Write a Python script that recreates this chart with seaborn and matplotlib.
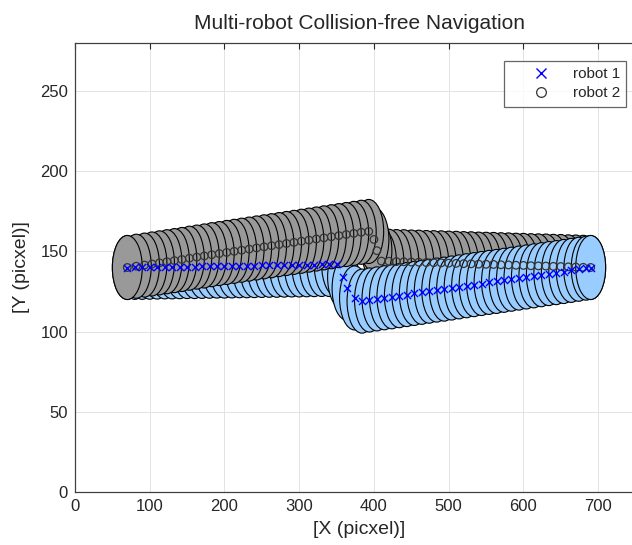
import numpy as np
import pandas as pd
import seaborn as sns
import matplotlib.pyplot as plt
from matplotlib.patches import Circle
from matplotlib.lines import Line2D

# robot 1 (blue) drives left -> right, dips under robot 2 in the middle
robot1_x = [70, 80, 90, 100, 110, 120, 130, 140, 150, 160, 170, 180, 190, 200, 210,
            220, 230, 240, 250, 260, 270, 280, 290, 300, 310, 320, 330, 340, 350,
            358, 364, 374, 384,
            394, 404, 414, 424, 434, 444, 454, 464, 474, 484, 494, 504, 514, 524,
            534, 544, 554, 564, 574, 584, 594, 604, 614, 624, 634, 644, 654, 664,
            674, 684, 690]
robot1_y = [140.0, 140.1, 140.1, 140.2, 140.3, 140.4, 140.4, 140.5, 140.6, 140.6,
            140.7, 140.8, 140.9, 140.9, 141.0, 141.1, 141.1, 141.2, 141.3, 141.4,
            141.4, 141.5, 141.6, 141.6, 141.7, 141.8, 141.9, 141.9, 142.0,
            134.0, 127.0, 121.0, 119.0,
            119.7, 120.4, 121.1, 121.7, 122.4, 123.1, 123.8, 124.5, 125.2, 125.9,
            126.5, 127.2, 127.9, 128.6, 129.3, 130.0, 130.7, 131.3, 132.0, 132.7,
            133.4, 134.1, 134.8, 135.5, 136.2, 136.8, 137.5, 138.2, 138.9, 139.6,
            140.0]

# robot 2 (gray) drives right -> left, lifts over robot 1 in the middle
robot2_x = [690, 680, 670, 660, 650, 640, 630, 620, 610, 600, 590, 580, 570, 560,
            550, 540, 530, 520, 510, 500, 490, 480, 470, 460, 450, 440, 430, 420, 410,
            404, 400, 393,
            383, 373, 363, 353, 343, 333, 323, 313, 303, 293, 283, 273, 263, 253,
            243, 233, 223, 213, 203, 193, 183, 173, 163, 153, 143, 133, 123, 113,
            103, 93, 82, 70]
robot2_y = [140.0, 140.1, 140.3, 140.4, 140.6, 140.7, 140.9, 141.0, 141.1, 141.3,
            141.4, 141.6, 141.7, 141.9, 142.0, 142.1, 142.3, 142.4, 142.6, 142.7,
            142.9, 143.0, 143.1, 143.3, 143.4, 143.6, 143.7, 143.9, 144.0,
            150.5, 157.5, 162.5,
            162.0, 161.3, 160.6, 159.9, 159.2, 158.5, 157.8, 157.1, 156.4, 155.7,
            155.0, 154.3, 153.6, 152.9, 152.2, 151.5, 150.8, 150.1, 149.4, 148.7,
            148.0, 147.2, 146.5, 145.8, 145.0, 144.3, 143.6, 142.9, 142.2, 141.5,
            140.8, 140.0]

robot_radius = 20

x_ticks = [0, 100, 200, 300, 400, 500, 600, 700]
y_ticks = [0, 50, 100, 150, 200, 250]

sns.set_theme(style="white")
plt.rcParams['font.family'] = ['Liberation Sans', 'DejaVu Sans']
text_color = '#262626'

fig = plt.figure(figsize=(6.32, 5.45), dpi=100)
# axes run past the right edge of the image, like the cropped original
ax = fig.add_axes([75 / 632, 53.3 / 545, 568 / 632, 448.4 / 545])

# discs drawn step by step so later positions end up on top
for i in range(len(robot1_x)):
    ax.add_patch(Circle((robot1_x[i], robot1_y[i]), robot_radius,
                        facecolor='#99ccff', edgecolor='black', lw=0.8, zorder=2))
    ax.add_patch(Circle((robot2_x[i], robot2_y[i]), robot_radius,
                        facecolor='#999999', edgecolor='black', lw=0.8, zorder=2))

df1 = pd.DataFrame({'x': robot1_x, 'y': robot1_y})
df2 = pd.DataFrame({'x': robot2_x, 'y': robot2_y})
sns.scatterplot(data=df1, x='x', y='y', marker='x', color='blue', s=26,
                linewidth=1.0, ax=ax, zorder=5, legend=False)
sns.scatterplot(data=df2, x='x', y='y', marker='o', facecolor='none',
                edgecolor='#333333', s=30, linewidth=0.9, ax=ax, zorder=4,
                legend=False)

ax.set_xlim(0, 760)
ax.set_ylim(0, 280)
ax.set_xticks(x_ticks)
ax.set_yticks(y_ticks)
ax.grid(True, color='#e3e3e3', lw=0.7)
ax.set_axisbelow(True)
ax.tick_params(direction='in', length=4, width=0.8, top=True, right=True,
               labelsize=12, colors=text_color, pad=5)
for sp in ax.spines.values():
    sp.set_color('#404040')
    sp.set_linewidth(0.9)

ax.set_title('Multi-robot Collision-free Navigation', fontsize=15,
             color=text_color, pad=10)
ax.set_xlabel('[X (picxel)]', fontsize=14, color=text_color, labelpad=5)
ax.set_ylabel('[Y (picxel)]', fontsize=14, color=text_color, labelpad=7)

handles = [Line2D([], [], marker='x', color='blue', ls='none', ms=7, mew=1.0),
           Line2D([], [], marker='o', mfc='none', mec='#333333', ls='none', ms=7, mew=0.9)]
leg = ax.legend(handles, ['robot 1', 'robot 2'], loc='upper right',
                bbox_to_anchor=(626 / 632, 1 - 61 / 545), bbox_transform=fig.transFigure,
                borderaxespad=0, fontsize=11, frameon=True, fancybox=False,
                handlelength=4.0, handletextpad=0.1, borderpad=0.4,
                labelspacing=0.35)
leg.get_frame().set_edgecolor('#404040')
leg.get_frame().set_linewidth(0.9)
for t in leg.get_texts():
    t.set_color(text_color)

fig.savefig('out.png', dpi=100)
